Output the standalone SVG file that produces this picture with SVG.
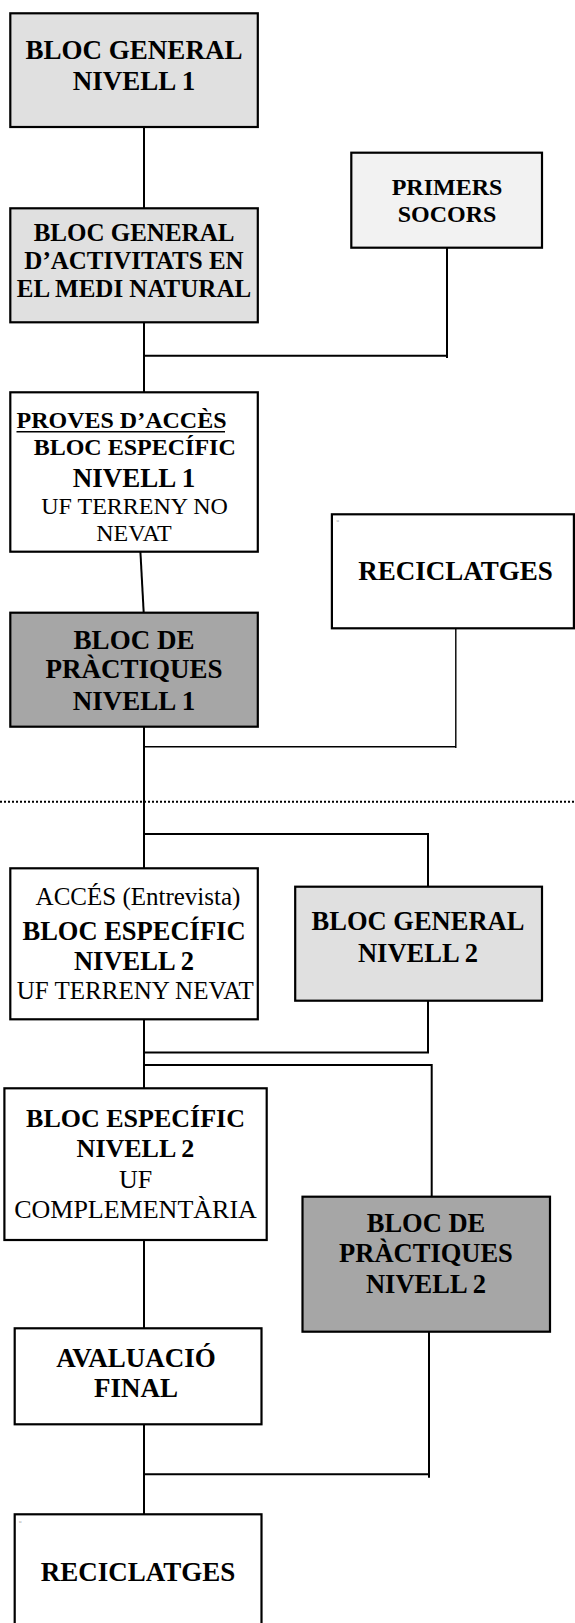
<svg xmlns="http://www.w3.org/2000/svg" width="575" height="1623" viewBox="0 0 575 1623">
<style>
.box{stroke:#000;stroke-width:2.2}
.w{fill:#fff}.g1{fill:#e0e0e0}.g0{fill:#f2f2f2}.g2{fill:#a6a6a6}
.b{font-family:"Liberation Serif","Times New Roman",serif;font-weight:bold;text-anchor:middle;fill:#000}
.r{font-family:"Liberation Serif","Times New Roman",serif;text-anchor:middle;fill:#000}
.c{stroke:#000;stroke-width:2;fill:none}
.thin{stroke:#000;stroke-width:1.4;fill:none}
.mark{font-family:"Liberation Serif",serif;font-size:5px;fill:#999}
</style>
<rect width="575" height="1623" fill="#fff"/>
<g id="connectors">
<path class="c" d="M144 127V208"/>
<path class="c" d="M144 322V392"/>
<path class="c" d="M447 247.7V358M144 355.7H447"/>
<path class="c" d="M140.4 551.7L143.7 612.7"/>
<path class="c" d="M144 726.7V868.3"/>
<path class="thin" d="M455.8 628.3V748M144 746.7H455.8"/>
<path d="M0 801.7H575" stroke="#000" stroke-width="2" stroke-dasharray="2 2"/>
<path class="c" d="M144 834H428V886.7"/>
<path class="c" d="M428 1000.7V1052.5H144"/>
<path class="c" d="M144 1019.3V1088.3"/>
<path class="c" d="M144 1065H431.7V1196.7"/>
<path class="c" d="M144 1240V1328.3"/>
<path class="c" d="M429 1331.7V1477.7M144 1474.3H429"/>
<path class="c" d="M144 1424.3V1514.3"/>
</g>
<g id="n1">
<rect class="box g1" x="10.3" y="13.3" width="247.5" height="113.7"/>
<text class="b" font-size="27" x="134" y="58.5">BLOC GENERAL</text>
<text class="b" font-size="27" x="134" y="89.5">NIVELL 1</text>
</g>
<g id="n2">
<rect class="box g1" x="10.3" y="208.3" width="247.5" height="114"/>
<text class="b" font-size="25" x="134" y="241">BLOC GENERAL</text>
<text class="b" font-size="25" x="134" y="269">D’ACTIVITATS EN</text>
<text class="b" font-size="25" x="134" y="296.5">EL MEDI NATURAL</text>
</g>
<g id="n3">
<rect class="box g0" x="351.3" y="152.7" width="190.7" height="95"/>
<text class="b" font-size="24" x="447" y="195">PRIMERS</text>
<text class="b" font-size="24" x="447" y="222">SOCORS</text>
</g>
<g id="n4">
<rect class="box w" x="10.3" y="392.3" width="247.5" height="159.4"/>
<text class="b" font-size="24" x="16.5" y="427.7" style="text-anchor:start">PROVES D’ACCÈS</text>
<path d="M16.5 431.8H225" stroke="#000" stroke-width="1.6"/>
<text class="b" font-size="24" x="134.7" y="455">BLOC ESPECÍFIC</text>
<text class="b" font-size="27" x="134" y="486.5">NIVELL 1</text>
<text class="r" font-size="24" x="134.6" y="514">UF TERRENY NO</text>
<text class="r" font-size="24" x="134" y="541">NEVAT</text>
</g>
<g id="n5">
<rect class="box g2" x="10.3" y="612.7" width="247.5" height="114"/>
<text class="b" font-size="27" x="134" y="648.5">BLOC DE</text>
<text class="b" font-size="27" x="134" y="678">PRÀCTIQUES</text>
<text class="b" font-size="27" x="134" y="710">NIVELL 1</text>
</g>
<g id="n6">
<rect class="box w" x="331.9" y="514.3" width="242" height="114"/>
<text class="mark" x="336.5" y="522">u</text>
<text class="b" font-size="27" x="455.6" y="579.5">RECICLATGES</text>
</g>
<g id="n7">
<rect class="box w" x="10.3" y="868.3" width="247.5" height="151"/>
<text class="r" font-size="25" x="138" y="904.5">ACCÉS (Entrevista)</text>
<text class="b" font-size="26.5" x="134" y="940">BLOC ESPECÍFIC</text>
<text class="b" font-size="26.5" x="134" y="969.5">NIVELL 2</text>
<text class="r" font-size="25" x="135.3" y="998.5">UF TERRENY NEVAT</text>
</g>
<g id="n8">
<rect class="box g1" x="295.2" y="886.7" width="246.8" height="114"/>
<text class="b" font-size="26.5" x="418" y="930">BLOC GENERAL</text>
<text class="b" font-size="26.5" x="418" y="962">NIVELL 2</text>
</g>
<g id="n9">
<rect class="box w" x="4.4" y="1088.3" width="262.3" height="151.7"/>
<text class="b" font-size="26" x="135.5" y="1126.7">BLOC ESPECÍFIC</text>
<text class="b" font-size="26" x="135.5" y="1156.7">NIVELL 2</text>
<text class="r" font-size="26" x="135.5" y="1188.3">UF</text>
<text class="r" font-size="26" x="135.5" y="1218.3">COMPLEMENTÀRIA</text>
</g>
<g id="n10">
<rect class="box g2" x="302.5" y="1196.7" width="247.5" height="135"/>
<text class="b" font-size="26.5" x="426" y="1232">BLOC DE</text>
<text class="b" font-size="26.5" x="426" y="1262">PRÀCTIQUES</text>
<text class="b" font-size="26.5" x="426" y="1293">NIVELL 2</text>
</g>
<g id="n11">
<rect class="box w" x="14.7" y="1328.3" width="246.8" height="96"/>
<text class="b" font-size="27" x="136" y="1366.7">AVALUACIÓ</text>
<text class="b" font-size="27" x="136" y="1396.7">FINAL</text>
</g>
<g id="n12">
<rect class="box w" x="14.7" y="1514.3" width="246.8" height="112"/>
<text class="mark" x="19" y="1523">u</text>
<text class="b" font-size="27" x="138" y="1580.7">RECICLATGES</text>
</g>
</svg>
